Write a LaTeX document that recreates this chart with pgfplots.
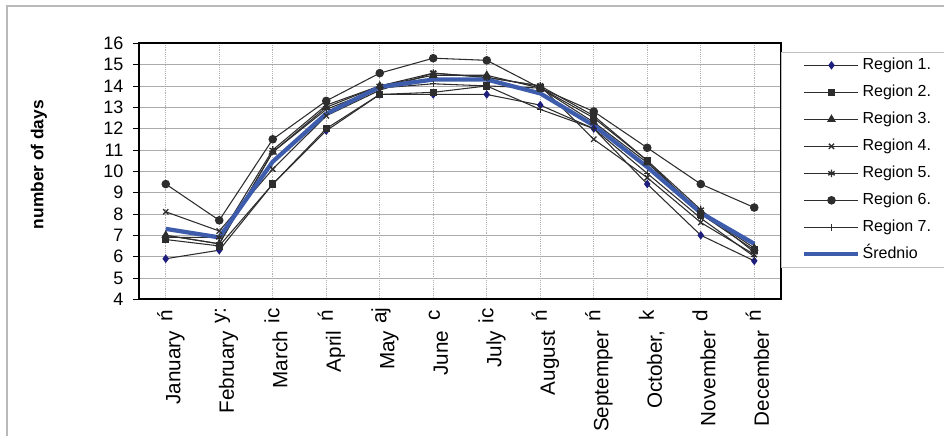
\documentclass[border=0pt]{standalone}
\usepackage{fontspec}
\setmainfont{Liberation Sans}
\usepackage{pgfplots}
\pgfplotsset{compat=1.18}
\usepackage{pgfplotstable}

\definecolor{avgblue}{RGB}{62,92,172}
\definecolor{navy}{RGB}{30,30,125}
\definecolor{ser}{RGB}{45,45,45}

\pgfplotstableread{
m  r1   r2   r3   r4   r5   r6   r7   avg
0  5.9  6.8  7.0  8.1  6.9  9.4  7.0  7.3
1  6.3  6.5  6.6  7.2  6.9  7.7  6.6  6.9
2  9.4  9.4  10.9 10.1 11.0 11.5 10.9 10.45
3  11.9 12.0 13.0 12.6 13.1 13.3 12.9 12.7
4  13.6 13.6 14.0 13.8 14.0 14.6 13.9 13.95
5  13.6 13.7 14.5 14.6 14.6 15.3 14.1 14.3
6  13.6 14.0 14.5 14.4 14.4 15.2 14.0 14.3
7  13.1 13.9 13.9 14.0 14.0 13.9 12.9 13.65
8  12.0 12.5 12.3 11.5 12.6 12.8 12.0 12.15
9  9.4  10.5 10.4 9.7  10.5 11.1 9.9  10.2
10 7.0  8.0  8.1  7.6  8.2  9.4  7.8  8.05
11 5.8  6.3  6.4  6.1  6.2  8.3  6.0  6.6
}\days

\newcommand{\frag}[1]{\makebox[23pt][c]{\raisebox{6pt}{#1}}}

\begin{document}
\begin{tikzpicture}[x=0.75pt,y=0.75pt]
\useasboundingbox (0,0) rectangle (944,439);
\draw[gray!55, line width=0.8pt] (7,3) -- (7,433) -- (944,433);
\begin{axis}[
    at={(104.25pt,104.8pt)}, anchor=south west,
    scale only axis, width=481.5pt, height=192pt,
    xmin=-0.5, xmax=11.5, ymin=4, ymax=16,
    xtick={0,...,11}, ytick={4,...,16},
    xticklabels={
      {January\frag{ń}}, {February\frag{y:}}, {March\frag{ic}},
      {April\frag{ń}}, {May\frag{aj}}, {June\frag{c}},
      {July\frag{ic}}, {August\frag{ń}}, {Septemper\frag{ń}},
      {October,\frag{k}}, {November\frag{d}}, {December\frag{ń}}},
    xticklabel style={xshift=11pt, yshift=4pt, rotate=90, anchor=base east,
      inner sep=0pt, font=\fontsize{15.5}{18}\selectfont},
    yticklabel style={xshift=-3.75pt, font=\fontsize{13.5}{15}\selectfont},
    /pgf/number format/assume math mode=true,
    tick align=outside, major tick length=4.5pt,
    xtick style={draw=none}, ytick style={black, line width=0.6pt},
    ytick pos=left,
    axis line style={black, line width=1.2pt},
    xmajorgrids, ymajorgrids,
    x grid style={densely dotted, gray!60, line width=0.5pt},
    y grid style={gray!65, line width=0.6pt},
    ylabel={number of days},
    ylabel style={font=\fontsize{13}{15}\selectfont\bfseries,
      at={(axis description cs:-0.1558,0.526)}, anchor=center},
    legend cell align=left,
    legend image code/.code={
      \draw[mark repeat=2, mark phase=2, #1]
        plot coordinates {(0pt,0pt) (20.25pt,0pt) (40.5pt,0pt)};},
    legend style={at={(1,0.966)}, anchor=north west,
      draw=gray!50, line width=0.5pt,
      font=\fontsize{12}{14}\selectfont,
      inner xsep=15.75pt, inner ysep=4pt, row sep=8.75pt,
      nodes={inner sep=0pt, text height=9pt, text depth=2.5pt},
      /tikz/every odd column/.append style={column sep=1.5pt}},
  ]
  \addplot[ser, line width=0.8pt, mark=diamond*, mark size=2.6pt,
    mark options={fill=navy, draw=navy, solid}] table[x=m, y=r1] {\days};
  \addlegendentry{Region 1.}
  \addplot[ser, line width=0.8pt, mark=square*, mark size=2.4pt,
    mark options={fill=ser, solid}] table[x=m, y=r2] {\days};
  \addlegendentry{Region 2.}
  \addplot[ser, line width=0.8pt, mark=triangle*, mark size=3pt,
    mark options={fill=ser, solid}] table[x=m, y=r3] {\days};
  \addlegendentry{Region 3.}
  \addplot[ser, line width=0.8pt, mark=x, mark size=2.8pt,
    mark options={line width=1pt, solid}] table[x=m, y=r4] {\days};
  \addlegendentry{Region 4.}
  \addplot[ser, line width=0.8pt, mark=asterisk, mark size=2.8pt,
    mark options={line width=1pt, solid}] table[x=m, y=r5] {\days};
  \addlegendentry{Region 5.}
  \addplot[ser, line width=0.8pt, mark=*, mark size=2.8pt,
    mark options={fill=ser, solid}] table[x=m, y=r6] {\days};
  \addlegendentry{Region 6.}
  \addplot[ser, line width=0.8pt, mark=+, mark size=2.4pt,
    mark options={line width=0.9pt, solid}] table[x=m, y=r7] {\days};
  \addlegendentry{Region 7.}
  \addplot[avgblue, line width=3.2pt, no marks] table[x=m, y=avg] {\days};
  \addlegendentry{Średnio}
\end{axis}
\end{tikzpicture}
\end{document}
